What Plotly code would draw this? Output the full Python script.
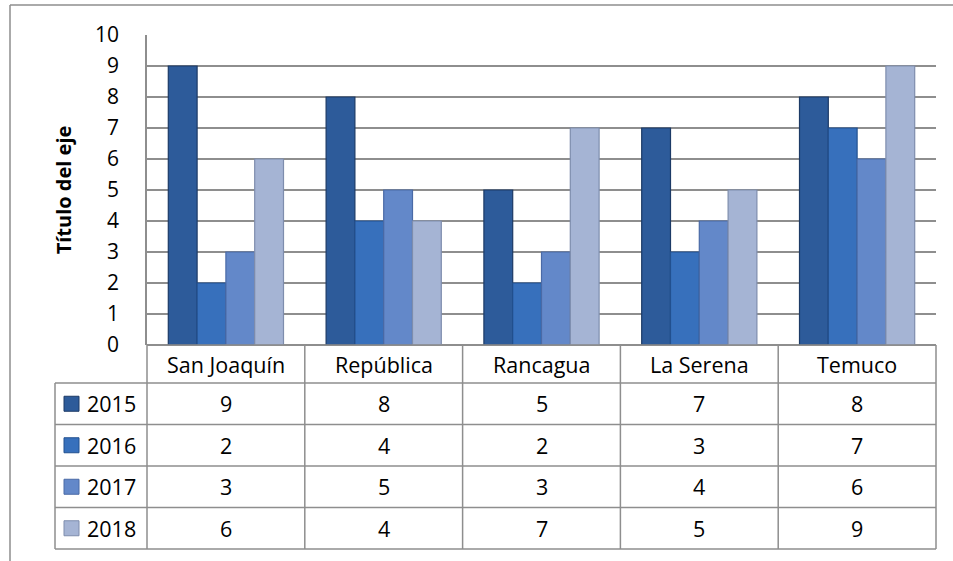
import plotly.graph_objects as go

categories = ["San Joaquín", "República", "Rancagua", "La Serena", "Temuco"]
series_names = ["2015", "2016", "2017", "2018"]
v2015 = [9, 8, 5, 7, 8]
v2016 = [2, 4, 2, 3, 7]
v2017 = [3, 5, 3, 4, 6]
v2018 = [6, 4, 7, 5, 9]
series_values = [v2015, v2016, v2017, v2018]
y_ticks = list(range(0, 11))
y_title = "Título del eje"

colors = ["#2D5B9A", "#3770BC", "#6388C9", "#A5B4D4"]
edge_colors = ["#1C3A66", "#22508F", "#4A6AA6", "#7E8DAD"]

W, H = 953, 561
L, R, T, B = 147, 936, 35, 345  # plot area in pixels
FONT = "Open Sans, Lato, sans-serif"
GRID = "#8E8E8E"


def px(x):
    return (x - L) / (R - L)


def py(y):
    return (B - y) / (B - T)


fig = go.Figure()
for name, vals, c, ec in zip(series_names, series_values, colors, edge_colors):
    fig.add_trace(go.Bar(
        x=categories, y=vals, name=name,
        marker=dict(color=c, line=dict(color=ec, width=1.2)),
        showlegend=False,
    ))

shapes = []
annotations = []

# table geometry (pixels)
header_bottom = 383
row_h = 41.5
row_edges = [header_bottom + i * row_h for i in range(len(series_names) + 1)]
table_left = 55
line = dict(color=GRID, width=1.5)

# horizontal lines
shapes.append(dict(type="line", xref="paper", yref="paper", x0=px(L), x1=px(R),
                   y0=py(B), y1=py(B), line=line))
for ye in row_edges:
    shapes.append(dict(type="line", xref="paper", yref="paper", x0=px(table_left), x1=px(R),
                       y0=py(ye), y1=py(ye), line=line))
# vertical lines
n = len(categories)
for k in range(n + 1):
    xk = L + k * (R - L) / n
    shapes.append(dict(type="line", xref="paper", yref="paper", x0=px(xk), x1=px(xk),
                       y0=py(B), y1=py(row_edges[-1]), line=line))
shapes.append(dict(type="line", xref="paper", yref="paper", x0=px(table_left), x1=px(table_left),
                   y0=py(row_edges[0]), y1=py(row_edges[-1]), line=line))

# outer chart border (top and left visible)
shapes.append(dict(type="line", xref="paper", yref="paper", x0=px(10), x1=px(W + 5),
                   y0=py(5), y1=py(5), line=dict(color=GRID, width=1.5)))
shapes.append(dict(type="line", xref="paper", yref="paper", x0=px(10), x1=px(10),
                   y0=py(5), y1=py(H + 5), line=dict(color=GRID, width=1.5)))

tfont = dict(family=FONT, size=21.5, color="#000000")
# category header row
for cat in categories:
    annotations.append(dict(x=cat, xref="x", y=py((B + header_bottom) / 2), yref="paper",
                            text=cat, showarrow=False, font=tfont,
                            xanchor="center", yanchor="middle"))
# series rows
for i, (name, vals, c, ec) in enumerate(zip(series_names, series_values, colors, edge_colors)):
    yc = (row_edges[i] + row_edges[i + 1]) / 2
    shapes.append(dict(type="rect", xref="paper", yref="paper",
                       x0=px(64), x1=px(79), y0=py(yc - 7.5), y1=py(yc + 7.5),
                       fillcolor=c, line=dict(color=ec, width=1)))
    annotations.append(dict(x=px(85), xref="paper", y=py(yc), yref="paper", text=name,
                            showarrow=False, font=tfont, xanchor="left", yanchor="middle"))
    for cat, v in zip(categories, vals):
        annotations.append(dict(x=cat, xref="x", y=py(yc), yref="paper", text=str(v),
                                showarrow=False, font=tfont,
                                xanchor="center", yanchor="middle"))

fig.update_layout(
    width=W, height=H,
    margin=dict(l=L, r=W - R, t=T, b=H - B, pad=0),
    paper_bgcolor="white", plot_bgcolor="white",
    barmode="group", bargap=0.27, bargroupgap=0,
    font=dict(family=FONT, size=21, color="#000000"),
    xaxis=dict(showgrid=False, showticklabels=False, showline=False, zeroline=False,
               ticks=""),
    yaxis=dict(range=[0, 10], tickvals=y_ticks, ticktext=[str(t) for t in y_ticks],
               showgrid=True, gridcolor=GRID, gridwidth=1.5,
               zeroline=True, zerolinecolor=GRID, zerolinewidth=1.5,
               showline=True, linecolor=GRID, linewidth=1.5,
               ticks="", ticklabelstandoff=22,
               tickfont=dict(family=FONT, size=21, color="#000000"),
               title=dict(text="<b>" + y_title + "</b>", standoff=18,
                          font=dict(family=FONT, size=20, color="#000000"))),
    shapes=shapes, annotations=annotations,
)

fig.write_html("out.html", config={"displayModeBar": False},
               post_script="document.body.style.margin='0';document.body.style.overflow='hidden';")
